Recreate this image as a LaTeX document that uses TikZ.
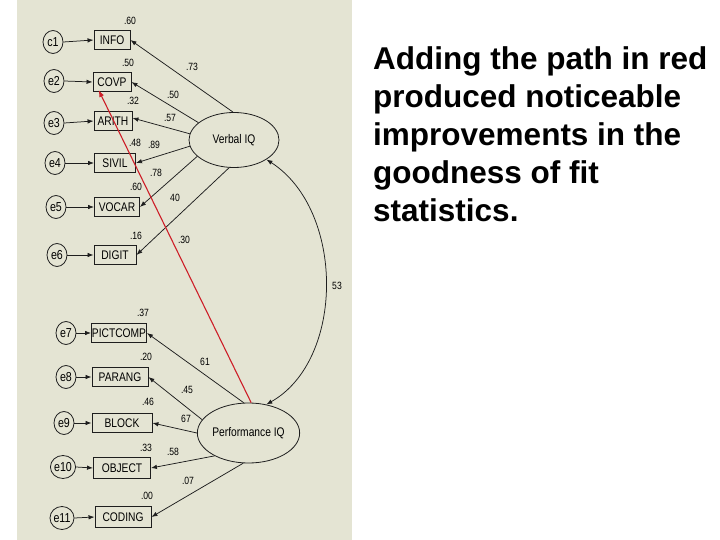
\documentclass[tikz,border=0pt]{standalone}
\usepackage{fontspec}
\setmainfont{Liberation Sans}
\newfontfamily\dfont[FakeStretch=0.82]{Liberation Sans}
\usetikzlibrary{shapes.geometric,arrows.meta}
\definecolor{panel}{RGB}{228,228,211}
\definecolor{redpath}{RGB}{205,30,40}
\definecolor{ink}{RGB}{30,30,30}
\begin{document}
\begin{tikzpicture}[x=1pt,y=-1pt,
  box/.style={draw=ink, line width=0.9pt, inner sep=0pt, minimum height=19pt, font=\dfont\fontsize{12.5}{14}\selectfont},
  err/.style={ellipse, draw=ink, line width=0.8pt, inner sep=0pt, minimum width=20pt, minimum height=23pt, font=\dfont\fontsize{13}{15}\selectfont},
  lat/.style={ellipse, draw=ink, line width=0.8pt, inner sep=0pt, font=\dfont\fontsize{12.5}{14}\selectfont},
  num/.style={font=\dfont\fontsize{10.5}{12}\selectfont, inner sep=0pt},
  arr/.style={-{Latex[length=6pt,width=4.5pt]}, line width=0.75pt, draw=ink},
  redarr/.style={-{Latex[length=7pt,width=5pt]}, line width=1.1pt, draw=redpath},
  cov/.style={{Latex[length=6pt,width=4.5pt]}-{Latex[length=6pt,width=4.5pt]}, line width=0.75pt, draw=ink},
  txt/.style={anchor=base west, inner sep=0pt, font=\fontsize{31.5}{38}\bfseries\selectfont}]
\fill[white] (0,0) rectangle (720,540);
\path[use as bounding box] (0,0) rectangle (720,540);
\fill[panel] (17,0) rectangle (352,540);

% verbal indicators
\node[box, minimum width=36pt] (INFO) at (112,40) {INFO};
\node[box, minimum width=38pt] (COVP) at (112,82) {COVP};
\node[box, minimum width=38pt] (ARITH) at (113,121) {ARITH};
\node[box, minimum width=41pt] (SIVIL) at (115,163) {SIVIL};
\node[box, minimum width=45pt] (VOCAR) at (117,207) {VOCAR};
\node[box, minimum width=42pt] (DIGIT) at (115,255) {DIGIT};
% performance indicators
\node[box, minimum width=55pt] (PICT) at (119,333) {PICTCOMP};
\node[box, minimum width=56pt] (PARANG) at (120,377) {PARANG};
\node[box, minimum width=60pt] (BLOCK) at (122,423) {BLOCK};
\node[box, minimum width=57pt, minimum height=21pt] (OBJECT) at (122,468) {OBJECT};
\node[box, minimum width=56pt, minimum height=21pt] (CODING) at (123,517) {CODING};

% error terms
\node[err] (e1) at (53,42) {c1};
\node[err] (e2) at (54,81) {e2};
\node[err] (e3) at (54,123) {e3};
\node[err] (e4) at (55,163) {e4};
\node[err] (e5) at (56,207) {e5};
\node[err] (e6) at (57,255) {e6};
\node[err] (e7) at (66,333) {e7};
\node[err] (e8) at (66,377) {e8};
\node[err] (e9) at (64,423) {e9};
\node[err] (e10) at (63,467) {e10};
\node[err] (e11) at (62,518) {e11};

% latent variables
\node[lat, minimum width=90pt, minimum height=55pt] (V) at (234,140) {Verbal IQ};
\node[lat, minimum width=89pt, minimum height=60pt] (P) at (248.5,433) {Performance IQ};

% error arrows
\foreach \e/\b in {e1/INFO,e2/COVP,e3/ARITH,e4/SIVIL,e5/VOCAR,e6/DIGIT,e7/PICT,e8/PARANG,e9/BLOCK,e10/OBJECT,e11/CODING}
  \draw[arr] (\e.east) -- (\b.west);

% loadings
\draw[arr] (V.92) -- (INFO.east);
\draw[arr] (V.154) -- (COVP.east);
\draw[arr] (V.172) -- ([yshift=3pt]ARITH.east);
\draw[arr] (V.188) -- (SIVIL.east);
\draw[arr] (V.204) -- (VOCAR.east);
\draw[arr] (V.260) -- (DIGIT.east);
\draw[arr] (P.99) -- (PICT.east);
\draw[arr] (P.164) -- (PARANG.east);
\draw[arr] (P.180) -- (BLOCK.east);
\draw[arr] (P.214) -- (OBJECT.east);
\draw[arr] (P.260) -- (CODING.east);

% covariance
\draw[cov] (V.329) .. controls (345,210) and (345,360) .. (P.58);

% red path
\draw[redarr] (P.85) -- ([xshift=6pt,yshift=2pt]COVP.south west);

% numbers
\node[num] (n1) at (130,21) {.60};
\node[num] (n2) at (128,63) {.50};
\node[num] (n3) at (133,101) {.32};
\node[num] (n4) at (135,143) {.48};
\node[num] (n5) at (136,187) {.60};
\node[num] (n6) at (136,236) {.16};
\node[num] (n7) at (192,67) {.73};
\node[num] (n8) at (173,95) {.50};
\node[num] (n9) at (170,118) {.57};
\node[num] (n10) at (154,145) {.89};
\node[num] (n11) at (156,173) {.78};
\node[num] (n12) at (175,198) {40};
\node[num] (n13) at (184,240) {.30};
\node[num] (n14) at (337,286) {53};
\node[num] (n15) at (143,313) {.37};
\node[num] (n16) at (146,357) {.20};
\node[num] (n17) at (205,362) {61};
\node[num] (n18) at (187,390) {.45};
\node[num] (n19) at (148,402) {.46};
\node[num] (n20) at (186,419) {67};
\node[num] (n21) at (146,448) {.33};
\node[num] (n22) at (173,452) {.58};
\node[num] (n23) at (188,481) {.07};
\node[num] (n24) at (147,496) {.00};

% caption text
\node[txt] (t1) at (373,70) {Adding the path in red};
\node[txt] (t2) at (373,108) {produced noticeable};
\node[txt] (t3) at (373,146) {improvements in the};
\node[txt] (t4) at (373,184) {goodness of fit};
\node[txt] (t5) at (373,222) {statistics.};
\end{tikzpicture}
\end{document}
